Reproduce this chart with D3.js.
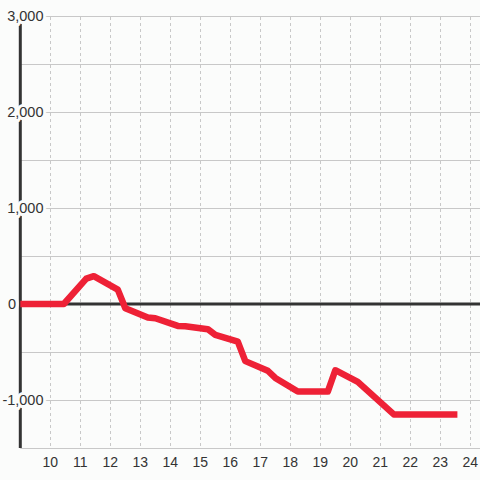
<!DOCTYPE html>
<html><head><meta charset="utf-8">
<script src="https://cdn.jsdelivr.net/npm/d3@7"></script>
<style>html,body{margin:0;padding:0;background:#fbfcfb;}svg{display:block;font-family:"Liberation Sans",Arial,sans-serif;}</style>
</head><body>
<svg id="c" width="480" height="480"></svg>
<script>
const hours = [9, 10.45, 11.2, 11.45, 12.25, 12.5, 13.25, 13.5, 14.25, 14.5, 15.25, 15.5, 16.25, 16.5, 17.25, 17.5, 18.25, 19.25, 19.5, 20.25, 21.45, 23.57];
const values = [0, 0, 265, 290, 150, -45, -140, -148, -228, -232, -262, -322, -392, -595, -695, -770, -912, -912, -690, -812, -1150, -1150];
const xTicks = [10, 11, 12, 13, 14, 15, 16, 17, 18, 19, 20, 21, 22, 23, 24];
const yGrid = [3000, 2500, 2000, 1500, 1000, 500, 0, -500, -1000, -1500];
const yLabels = [3000, 2000, 1000, 0, -1000];

const svg = d3.select("#c");
const x = d3.scaleLinear().domain([9, 24]).range([20.3, 470.3]);
const y = d3.scaleLinear().domain([-1500, 3000]).range([448, 16]);
const bg = "#fbfcfb";

// horizontal grid
svg.append("g").selectAll("line").data(yGrid).join("line")
  .attr("x1", x(9)).attr("x2", 480)
  .attr("y1", d => y(d) + 0.5).attr("y2", d => y(d) + 0.5)
  .attr("stroke", "#c8c8c8").attr("stroke-width", 1);
// vertical dashed grid
svg.append("g").selectAll("line").data(xTicks).join("line")
  .attr("x1", d => Math.round(x(d)) + 0.5).attr("x2", d => Math.round(x(d)) + 0.5)
  .attr("y1", y(3000) + 1).attr("y2", y(-1500))
  .attr("stroke", "#c8c8c8").attr("stroke-width", 1).attr("stroke-dasharray", "3,3");

// left axis line
svg.append("line").attr("x1", x(9)).attr("x2", x(9)).attr("y1", y(3000)).attr("y2", y(-1500))
  .attr("stroke", "#333").attr("stroke-width", 3);
// zero line
svg.append("line").attr("x1", x(9)).attr("x2", 480).attr("y1", y(0)).attr("y2", y(0))
  .attr("stroke", "#333").attr("stroke-width", 3);

// data line
const line = d3.line().x((d, i) => x(hours[i])).y(d => y(d));
svg.append("path").datum(values).attr("d", line)
  .attr("fill", "none").attr("stroke", "#ee2136").attr("stroke-width", 6.5)
  .attr("stroke-linejoin", "round").attr("stroke-linecap", "butt");

// y labels with halo
svg.append("g").selectAll("text").data(yLabels).join("text")
  .attr("x", d => d === 0 ? 8 : 43.5).attr("y", d => y(d) + 5)
  .attr("text-anchor", d => d === 0 ? "start" : "end")
  .attr("font-size", 14.5).attr("fill", "#333")
  .attr("stroke", bg).attr("stroke-width", 6).attr("paint-order", "stroke")
  .text(d => d3.format(",")(d).replace("−", "-"));

// x labels
svg.append("g").selectAll("text").data(xTicks).join("text")
  .attr("x", d => x(d)).attr("y", 467)
  .attr("text-anchor", "middle").attr("font-size", 14).attr("fill", "#333")
  .text(d => d);
</script>
</body></html>
